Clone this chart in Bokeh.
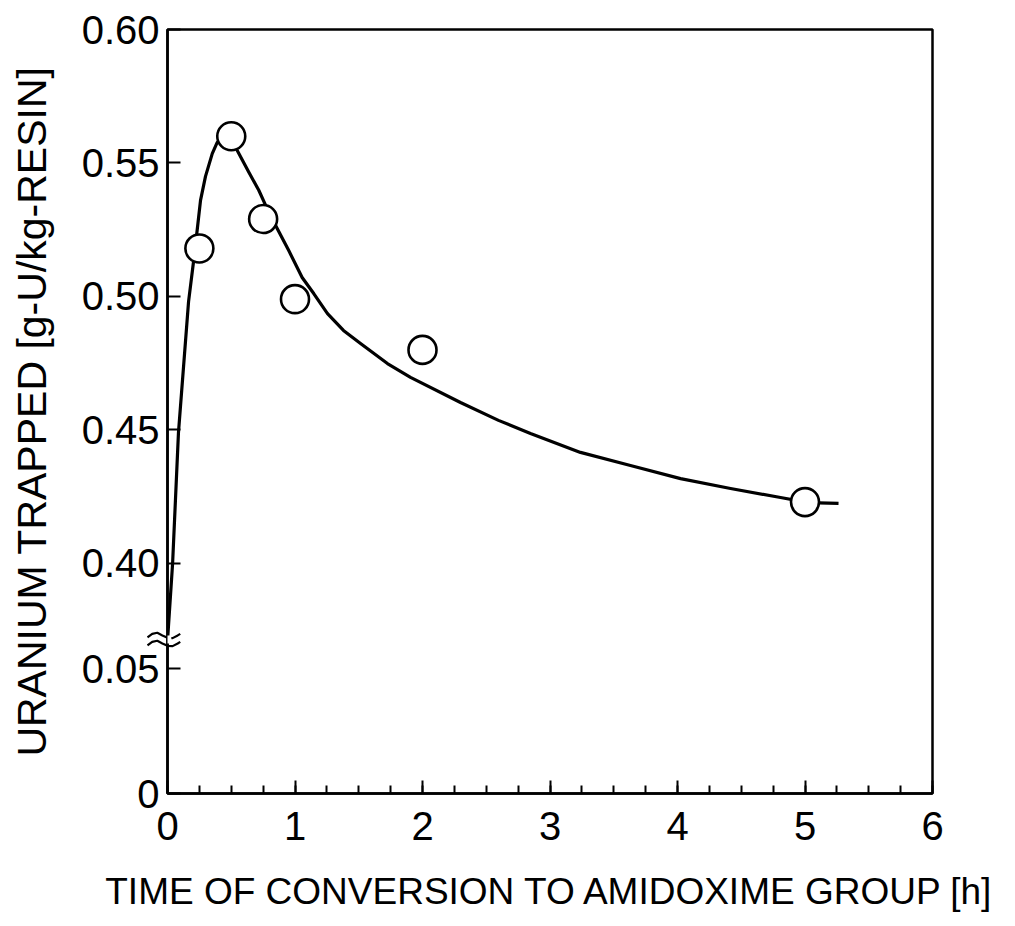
from bokeh.plotting import figure
from bokeh.models import FixedTicker, Range1d, BoxAnnotation
from bokeh.embed import file_html
from bokeh.resources import INLINE

# ---- data ----
time_h = [0.25, 0.5, 0.75, 1.0, 2.0, 5.0]
uranium = [0.518, 0.560, 0.529, 0.499, 0.480, 0.423]

curve_time = [0.0, 0.04, 0.086, 0.165, 0.204, 0.233, 0.259, 0.298, 0.351, 0.39,
              0.43, 0.478, 0.547, 0.638, 0.716, 0.769, 0.847, 0.951, 1.056,
              1.147, 1.255, 1.38, 1.514, 1.725, 1.906, 2.298, 2.596, 2.847,
              3.239, 3.631, 4.024, 4.416, 4.808, 5.027, 5.263]
curve_uranium = [0.371, 0.400, 0.449, 0.498, 0.513, 0.525, 0.536, 0.545, 0.5535,
                 0.5577, 0.5600, 0.5607, 0.5547, 0.5465, 0.5398, 0.5342, 0.5267,
                 0.5172, 0.5071, 0.5011, 0.4936, 0.4873, 0.4824, 0.4749, 0.4697,
                 0.4603, 0.4536, 0.4487, 0.4416, 0.4367, 0.4318, 0.4281, 0.4247,
                 0.4228, 0.4225]

x_ticks = [0, 1, 2, 3, 4, 5, 6]
y_tick_values = [0.0, 0.05, 0.40, 0.45, 0.50, 0.55, 0.60]
y_tick_labels = ["0", "0.05", "0.40", "0.45", "0.50", "0.55", "0.60"]

# ---- broken y scale: 0..0.05 below the break, 0.40..0.60 above ----
LOW_TOP, LOW_D = 0.05, 0.936
HIGH_BASE, HIGH_D, HIGH_STEP = 0.40, 1.723, 0.05
BREAK_LO, BREAK_HI = 1.124, 1.184


def to_display(v):
    if v <= LOW_TOP:
        return v / LOW_TOP * LOW_D
    return HIGH_D + (v - HIGH_BASE) / HIGH_STEP


y_tick_pos = [to_display(v) for v in y_tick_values]
FONT = "Liberation Sans"

p = figure(width=1010, height=926, output_backend="svg", toolbar_location=None,
           x_range=Range1d(0, 6), y_range=Range1d(0, to_display(0.60)),
           min_border_left=167, min_border_right=78, min_border_top=29,
           min_border_bottom=133, background_fill_color="white",
           border_fill_color="white")
p.grid.visible = False
p.outline_line_color = "black"
p.outline_line_width = 2.5

# x axis
xa = p.xaxis[0]
xa.ticker = FixedTicker(ticks=x_ticks,
                        minor_ticks=[i * 0.25 for i in range(25)])
xa.major_tick_in = 13
xa.major_tick_out = 0
xa.minor_tick_in = 8
xa.minor_tick_out = 0
xa.axis_line_width = 2.5
xa.major_tick_line_width = 2
xa.minor_tick_line_width = 2
xa.major_label_text_font = FONT
xa.major_label_text_font_size = "40px"
xa.major_label_text_color = "black"
xa.major_label_standoff = 18
xa.axis_label = "TIME OF CONVERSION TO AMIDOXIME GROUP [h]"
xa.axis_label_text_font = FONT
xa.axis_label_text_font_size = "37px"
xa.axis_label_text_font_style = "normal"
xa.axis_label_text_color = "black"
xa.axis_label_standoff = 28

# y axis
ya = p.yaxis[0]
ya.ticker = FixedTicker(ticks=y_tick_pos, minor_ticks=[])
ya.major_label_overrides = {pos: lab for pos, lab in zip(y_tick_pos, y_tick_labels)}
ya.major_tick_in = 13
ya.major_tick_out = 0
ya.axis_line_width = 2.5
ya.major_tick_line_width = 2
ya.major_label_text_font = FONT
ya.major_label_text_font_size = "40px"
ya.major_label_text_color = "black"
ya.major_label_standoff = 8
ya.axis_label = "URANIUM TRAPPED [g-U/kg-RESIN]"
ya.axis_label_text_font = FONT
ya.axis_label_text_font_size = "41px"
ya.axis_label_text_font_style = "normal"
ya.axis_label_text_color = "black"
ya.axis_label_standoff = 24

# fitted curve and measured points
p.line(curve_time, [to_display(v) for v in curve_uranium],
       line_color="black", line_width=3.2, line_join="round")
p.scatter(time_h, [to_display(v) for v in uranium], marker="circle", size=28,
          fill_color="white", line_color="black", line_width=2.6)

# axis break: white gap plus two wavy strokes
p.add_layout(BoxAnnotation(left=-0.03, right=0.03, bottom=BREAK_LO, top=BREAK_HI,
                           fill_color="white", fill_alpha=1.0, line_alpha=0,
                           level="overlay"))
wx = [-0.157, -0.12, -0.08, -0.04, 0.0, 0.04, 0.08, 0.1]
wy = [-0.015, 0.012, 0.02, 0.0, -0.018, -0.02, 0.0, 0.012]
for base in (BREAK_HI, BREAK_LO):
    p.line(wx, [base + d for d in wy], line_color="black", line_width=2.2,
           level="overlay")

open("out.html", "w").write(file_html(p, INLINE))
